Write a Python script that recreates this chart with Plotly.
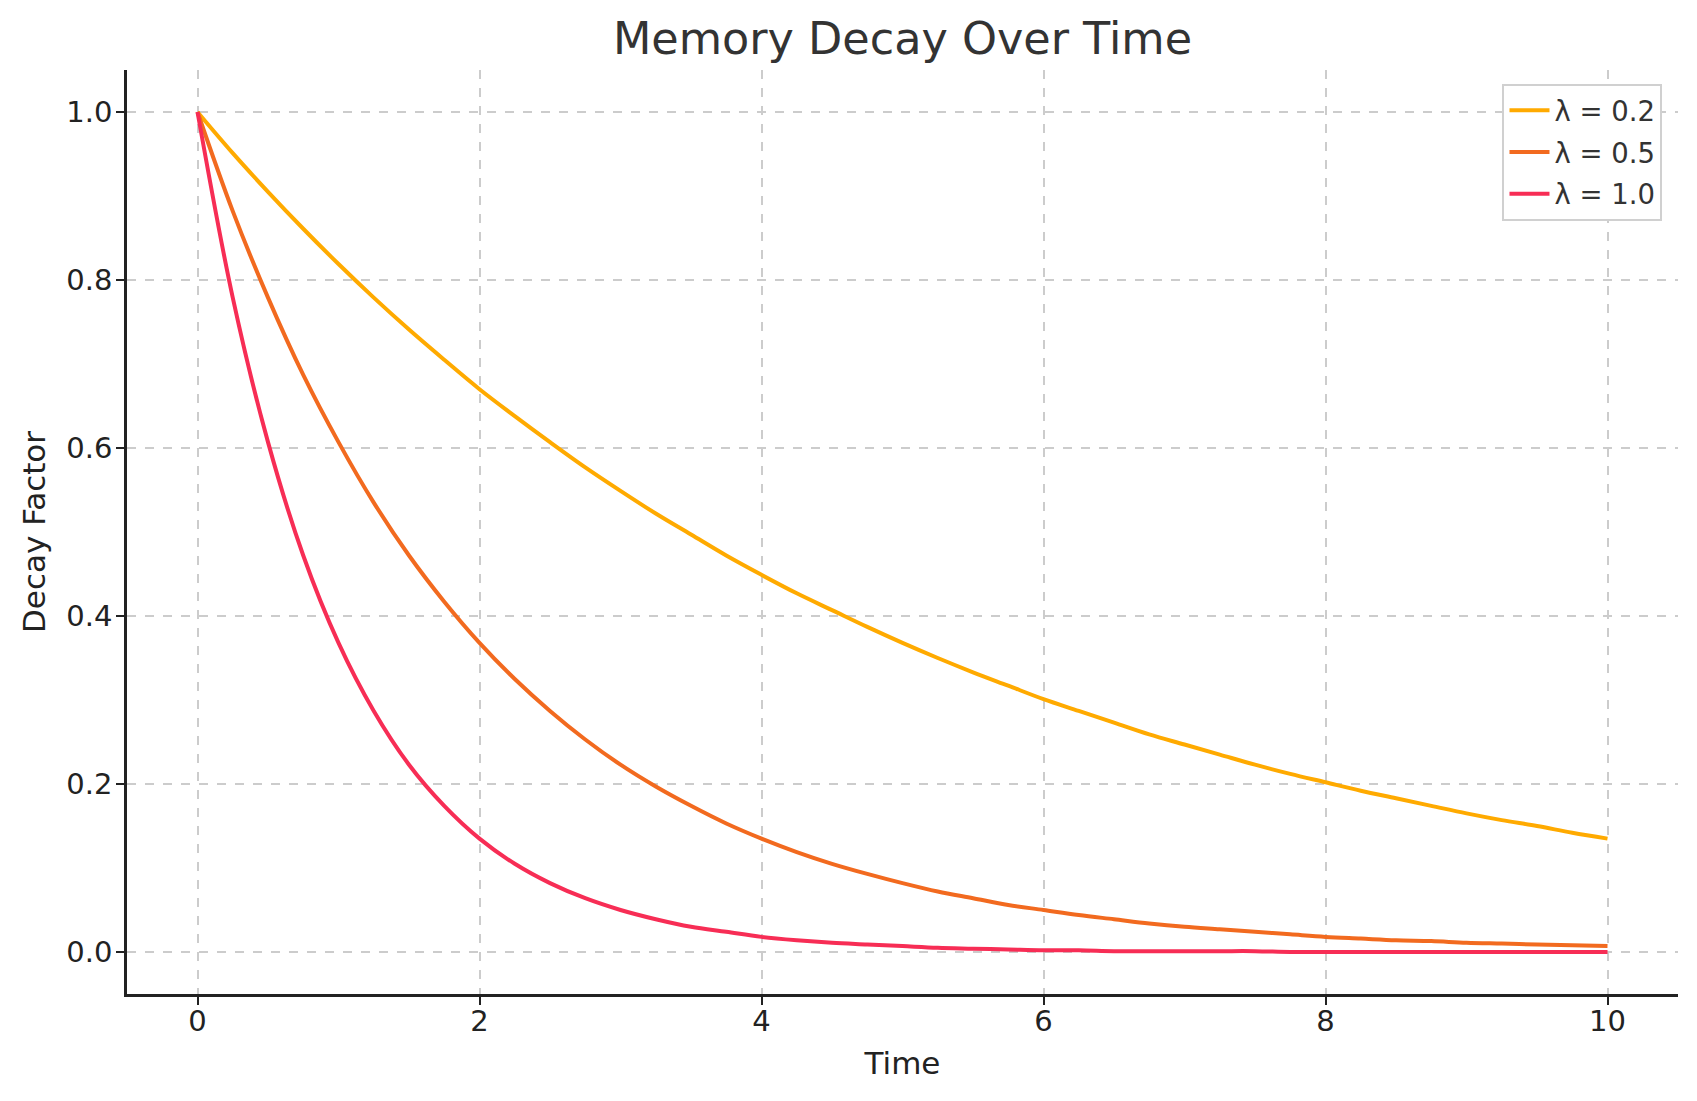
import plotly.graph_objects as go

# time points and decay factors
time = [0, 0.25, 0.5, 0.75, 1, 1.25, 1.5, 1.75, 2, 2.25, 2.5, 2.75, 3, 3.25,
        3.5, 3.75, 4, 4.25, 4.5, 4.75, 5, 5.25, 5.5, 5.75, 6, 6.25, 6.5,
        6.75, 7, 7.25, 7.5, 7.75, 8, 8.25, 8.5, 8.75, 9, 9.25, 9.5, 9.75, 10]

decay_02 = [1.000, 0.951, 0.905, 0.861, 0.819, 0.779, 0.741, 0.705, 0.670,
            0.638, 0.607, 0.577, 0.549, 0.522, 0.497, 0.472, 0.449, 0.427,
            0.407, 0.387, 0.368, 0.350, 0.333, 0.317, 0.301, 0.287, 0.273,
            0.259, 0.247, 0.235, 0.223, 0.212, 0.202, 0.192, 0.183, 0.174,
            0.165, 0.157, 0.150, 0.142, 0.135]
decay_05 = [1.000, 0.882, 0.779, 0.687, 0.607, 0.535, 0.472, 0.417, 0.368,
            0.325, 0.287, 0.253, 0.223, 0.197, 0.174, 0.153, 0.135, 0.119,
            0.105, 0.093, 0.082, 0.072, 0.064, 0.056, 0.050, 0.044, 0.039,
            0.034, 0.030, 0.027, 0.024, 0.021, 0.018, 0.016, 0.014, 0.013,
            0.011, 0.010, 0.009, 0.008, 0.007]
decay_10 = [1.000, 0.779, 0.607, 0.472, 0.368, 0.287, 0.223, 0.174, 0.135,
            0.105, 0.082, 0.064, 0.050, 0.039, 0.030, 0.024, 0.018, 0.014,
            0.011, 0.009, 0.007, 0.005, 0.004, 0.003, 0.002, 0.002, 0.001,
            0.001, 0.001, 0.001, 0.001, 0.000, 0.000, 0.000, 0.000, 0.000,
            0.000, 0.000, 0.000, 0.000, 0.000]

series = [
    ("λ = 0.2", decay_02, "#FFAA00"),
    ("λ = 0.5", decay_05, "#F26A1F"),
    ("λ = 1.0", decay_10, "#F72D55"),
]

FONT = "DejaVu Sans"

fig = go.Figure()
for name, vals, color in series:
    fig.add_trace(go.Scatter(
        x=time, y=vals, name=name, mode="lines", legendgroup=name,
        line=dict(color=color, width=4, shape="spline", smoothing=1.0),
    ))

axis_common = dict(
    showline=True, linecolor="#222222", linewidth=2.5, mirror=False,
    ticks="outside", ticklen=8, tickwidth=2, tickcolor="#222222",
    showgrid=True, gridcolor="#cccccc", gridwidth=1.5, griddash="dash",
    zeroline=False,
    tickfont=dict(family=FONT, size=29, color="#222222"),
)

fig.update_xaxes(
    range=[-0.5, 10.5], tickvals=[0, 2, 4, 6, 8, 10], ticklabelstandoff=-9,
    title=dict(text="Time", font=dict(family=FONT, size=31, color="#222222"), standoff=16),
    **axis_common,
)
fig.update_yaxes(
    range=[-0.05, 1.05], tickvals=[0, 0.2, 0.4, 0.6, 0.8, 1.0], tickformat=".1f",
    ticklabelstandoff=-2,
    title=dict(text="Decay Factor", font=dict(family=FONT, size=31, color="#222222"), standoff=12),
    **axis_common,
)

fig.update_layout(
    width=1697, height=1101,
    margin=dict(l=127, r=19, t=70, b=107),
    plot_bgcolor="white", paper_bgcolor="white",
    title=dict(text="Memory Decay Over Time", x=0.5, xref="paper",
               y=1 - 38 / 1101, yref="container", yanchor="middle",
               font=dict(family=FONT, size=44.5, color="#333333")),
    legend=dict(x=0.99, y=0.985, xanchor="right", yanchor="top",
                bordercolor="#d0d0d0", borderwidth=2, bgcolor="white",
                font=dict(family=FONT, size=27.5, color="#333333"),
                tracegroupgap=3, itemwidth=40),
    showlegend=True,
)

# drop the browser's default body margin so the figure sits at the page origin
fig.write_html("out.html", config={"displayModeBar": False},
               post_script="document.body.style.margin='0';")
